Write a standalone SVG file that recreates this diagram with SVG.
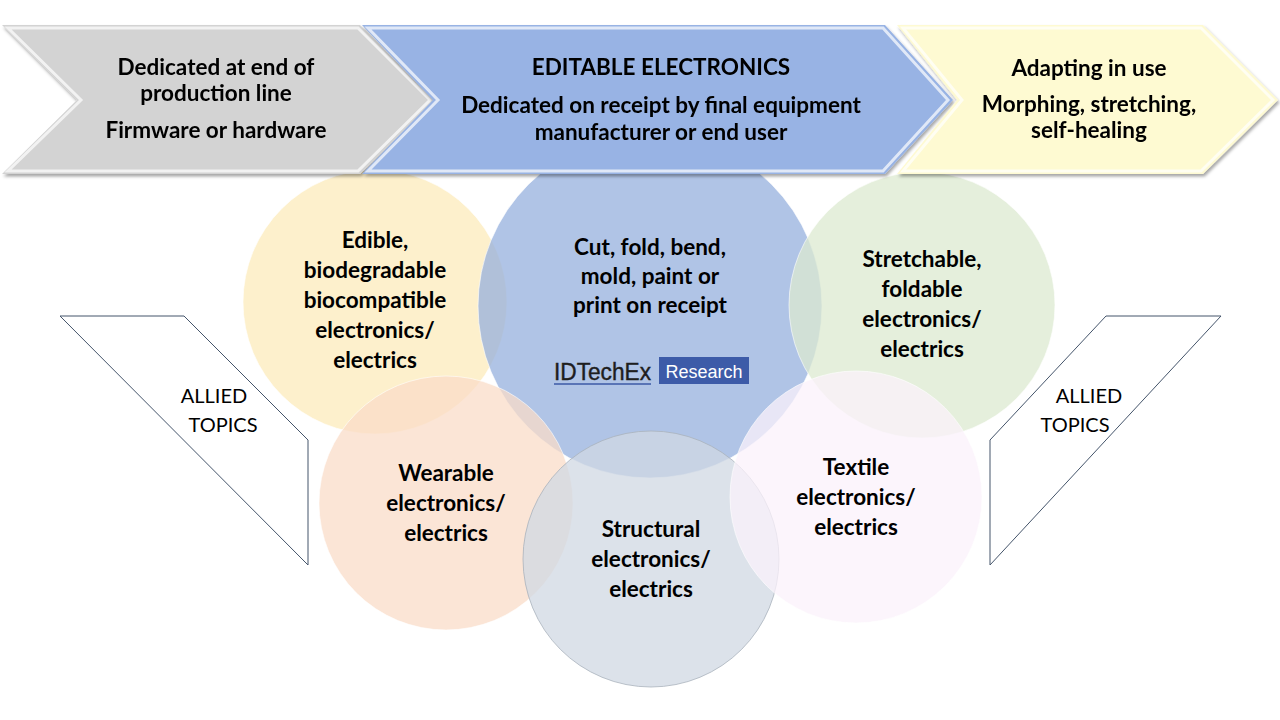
<svg xmlns="http://www.w3.org/2000/svg" width="1280" height="720" viewBox="0 0 1280 720">
<defs>
<style>
.t{font-family:Lato,"Open Sans","Liberation Sans",sans-serif;font-weight:bold;font-size:22.5px;fill:#000;text-anchor:middle}
.h{font-size:22.5px}
.a{font-family:Lato,"Open Sans","Liberation Sans",sans-serif;font-size:20px;fill:#000;text-anchor:middle}
.c{fill-opacity:0.75;stroke:#ffffff;stroke-opacity:0.6;stroke-width:1}
.al{fill:#fff;stroke:#44546a;stroke-width:1}
.bev{fill:none;stroke:#fff;stroke-opacity:0.7;stroke-width:3}
</style>
<filter id="sh" x="-5%" y="-10%" width="110%" height="125%">
<feDropShadow dx="1.5" dy="2.5" stdDeviation="1.5" flood-color="#000" flood-opacity="0.35"/>
</filter>
</defs>
<rect width="1280" height="720" fill="#fff"/>

<g id="allied-left">
<polygon class="al" points="60,316 184,316 308,440 308,565"/>
<text class="a" x="214" y="403">ALLIED</text>
<text class="a" x="223" y="432">TOPICS</text>
</g>
<g id="allied-right">
<polygon class="al" points="1106,316 1221,316 990,565 990,440"/>
<text class="a" x="1089" y="403">ALLIED</text>
<text class="a" x="1075" y="432">TOPICS</text>
</g>

<g id="circle-edible"><circle class="c" cx="375" cy="302" r="132" fill="#fcebbb"/></g>
<g id="circle-editable"><circle class="c" cx="650" cy="306" r="172" fill="#96b0de"/></g>
<g id="circle-stretchable"><circle class="c" cx="922" cy="305" r="133" fill="#dce9d0"/></g>
<g id="circle-wearable"><circle class="c" cx="446" cy="503" r="127" fill="#fadcc8"/></g>
<g id="circle-structural"><circle cx="651" cy="559" r="128" fill="#d0d8e3" fill-opacity="0.75" stroke="#aab2bc" stroke-width="0.8"/></g>
<g id="circle-textile"><circle class="c" cx="856" cy="497" r="126" fill="#fbf2fb"/></g>

<g id="labels-circles">
<text class="t" x="375" y="248">Edible,</text>
<text class="t" x="375" y="278">biodegradable</text>
<text class="t" x="375" y="308">biocompatible</text>
<text class="t" x="375" y="338">electronics/</text>
<text class="t" x="375" y="368">electrics</text>

<text class="t" x="650" y="255">Cut, fold, bend,</text>
<text class="t" x="650" y="284">mold, paint or</text>
<text class="t" x="650" y="313">print on receipt</text>

<text class="t" x="922" y="267">Stretchable,</text>
<text class="t" x="922" y="297">foldable</text>
<text class="t" x="922" y="327">electronics/</text>
<text class="t" x="922" y="357">electrics</text>

<text class="t" x="446" y="481">Wearable</text>
<text class="t" x="446" y="511">electronics/</text>
<text class="t" x="446" y="541">electrics</text>

<text class="t" x="651" y="537">Structural</text>
<text class="t" x="651" y="567">electronics/</text>
<text class="t" x="651" y="597">electrics</text>

<text class="t" x="856" y="475">Textile</text>
<text class="t" x="856" y="505">electronics/</text>
<text class="t" x="856" y="535">electrics</text>
</g>

<g id="logo">
<text x="554" y="380" font-family="'Liberation Sans',Arial,sans-serif" font-size="23" fill="#1e1e1e" stroke="#1e1e1e" stroke-width="0.4" textLength="97" lengthAdjust="spacingAndGlyphs">IDTechEx</text>
<line x1="554" y1="384" x2="651" y2="384" stroke="#3c5aa6" stroke-width="1.5"/>
<rect x="659" y="357" width="90" height="27" fill="#3d5ba8"/>
<text x="704" y="378" font-family="'Liberation Sans',Arial,sans-serif" font-size="18" fill="#fff" text-anchor="middle">Research</text>
</g>

<g id="chevron-gray" filter="url(#sh)">
<polygon points="2,25 360,25 435,100 360,174 2,174 77,100" fill="#d3d3d3"/>
<polygon class="bev" points="8,28 358,28 430,100 358,171 8,171 81,100"/>
<text class="t" x="216" y="75">Dedicated at end of</text>
<text class="t" x="216" y="101">production line</text>
<text class="t" x="216" y="138">Firmware or hardware</text>
</g>
<g id="chevron-blue" filter="url(#sh)">
<polygon points="362,25 885,25 953,100 885,174 362,174 433,100" fill="#98b3e4"/>
<polygon class="bev" points="368,28 883,28 948,100 883,171 368,171 438,100"/>
<text class="t h" x="661" y="75">EDITABLE ELECTRONICS</text>
<text class="t" x="661" y="113">Dedicated on receipt by final equipment</text>
<text class="t" x="661" y="140">manufacturer or end user</text>
</g>
<g id="chevron-yellow" filter="url(#sh)">
<polygon points="897,25 1203,25 1278,100 1203,174 897,174 957,100" fill="#fefad2"/>
<polygon class="bev" points="903,28 1201,28 1273,100 1201,171 903,171 962,100"/>
<text class="t" x="1089" y="76">Adapting in use</text>
<text class="t" x="1089" y="112">Morphing, stretching,</text>
<text class="t" x="1089" y="138">self-healing</text>
</g>
</svg>
